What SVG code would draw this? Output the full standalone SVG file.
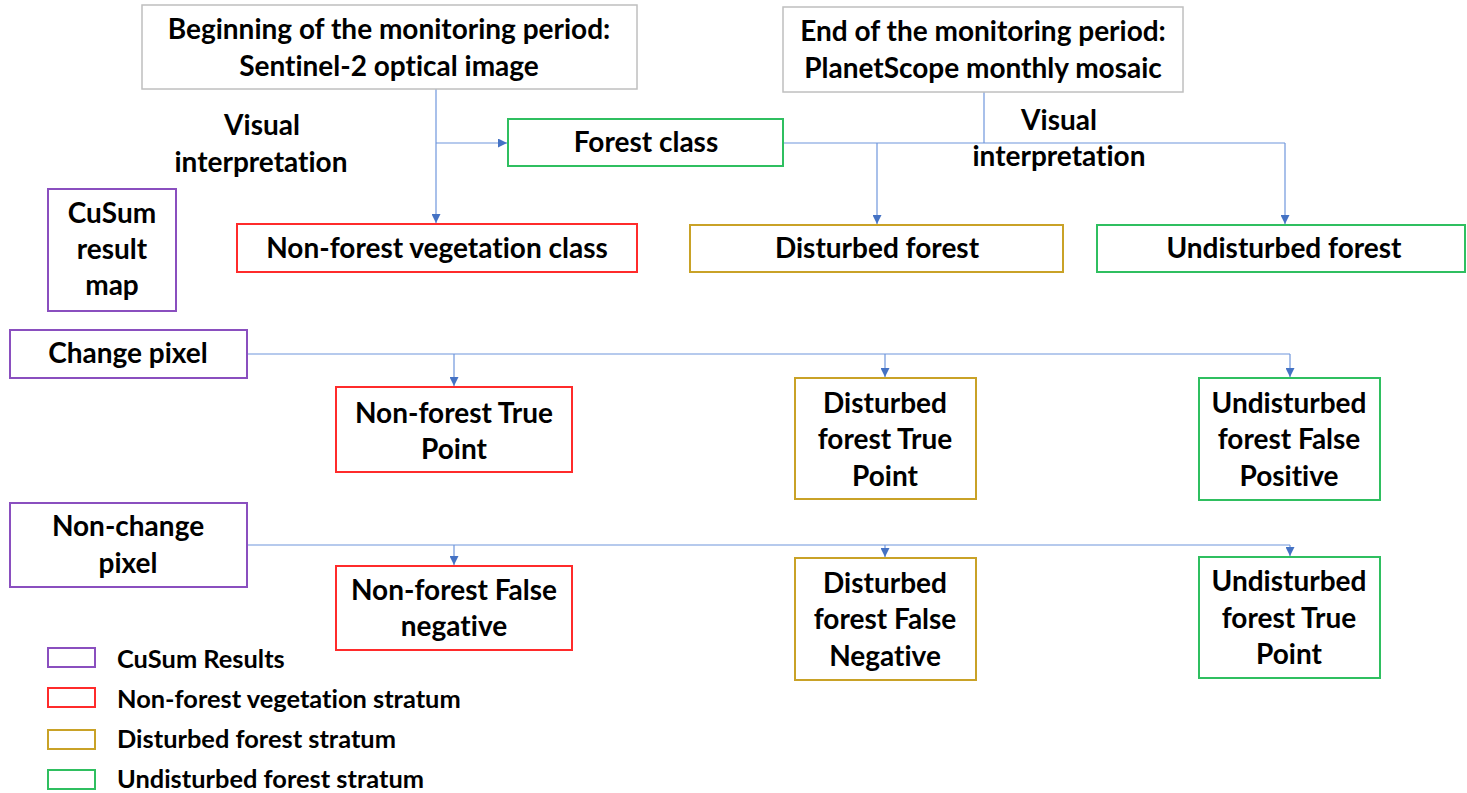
<svg xmlns="http://www.w3.org/2000/svg" width="1467" height="793" viewBox="0 0 1467 793">
<style>
text{font-family:Lato,"Liberation Sans",sans-serif;font-weight:bold;font-size:28px;fill:#000;font-variant-ligatures:none}
.c{text-anchor:middle}
.lg{font-size:25.4px}
rect{fill:#fff}
.gray{stroke:#bfbfbf;stroke-width:1.5}
.red{stroke:#ff2b2b;stroke-width:2}
.green{stroke:#2fbf60;stroke-width:2}
.gold{stroke:#c9a227;stroke-width:2}
.purple{stroke:#8a4fbf;stroke-width:2}
.ln{fill:none;stroke:#6f96dc;stroke-width:1.2}
</style>
<defs>
<marker id="ah" viewBox="0 0 10 10" refX="10" refY="5" markerWidth="9" markerHeight="9" markerUnits="userSpaceOnUse" orient="auto">
<path d="M0,0 L10,5 L0,10 z" fill="#4472c4"/>
</marker>
</defs>
<g id="connectors">
<path class="ln" d="M436,89 V223" marker-end="url(#ah)"/>
<path class="ln" d="M436,143 H507" marker-end="url(#ah)"/>
<path class="ln" d="M984,92 V143"/>
<path class="ln" d="M783,143 H1285"/>
<path class="ln" d="M877,143 V224" marker-end="url(#ah)"/>
<path class="ln" d="M1285,143 V224" marker-end="url(#ah)"/>
<path class="ln" d="M248,354 H1290"/>
<path class="ln" d="M454,354 V386" marker-end="url(#ah)"/>
<path class="ln" d="M885,354 V377" marker-end="url(#ah)"/>
<path class="ln" d="M1290,354 V377" marker-end="url(#ah)"/>
<path class="ln" d="M248,545 H1290"/>
<path class="ln" d="M454,545 V565" marker-end="url(#ah)"/>
<path class="ln" d="M885,545 V557" marker-end="url(#ah)"/>
<path class="ln" d="M1290,545 V556" marker-end="url(#ah)"/>
</g>
<g id="label-visual-left">
<text class="c" x="262" y="135">Visual</text>
<text class="c" x="261" y="172">interpretation</text>
</g>
<g id="label-visual-right">
<text class="c" x="1059" y="130">Visual</text>
<text class="c" x="1059" y="166">interpretation</text>
</g>
<g id="beginning">
<rect class="gray" x="142" y="5" width="495" height="84"/>
<text class="c" x="389" y="39">Beginning of the monitoring period:</text>
<text class="c" x="389" y="76">Sentinel-2 optical image</text>
</g>
<g id="end">
<rect class="gray" x="783" y="7" width="400" height="85"/>
<text class="c" x="983" y="41">End of the monitoring period:</text>
<text class="c" x="983" y="78">PlanetScope monthly mosaic</text>
</g>
<g id="forest-class">
<rect class="green" x="508" y="119" width="275" height="47"/>
<text class="c" x="646" y="152">Forest class</text>
</g>
<g id="non-forest-vegetation-class">
<rect class="red" x="237" y="224" width="400" height="48"/>
<text class="c" x="437" y="258">Non-forest vegetation class</text>
</g>
<g id="disturbed-forest">
<rect class="gold" x="690" y="225" width="373" height="47"/>
<text class="c" x="877" y="258">Disturbed forest</text>
</g>
<g id="undisturbed-forest">
<rect class="green" x="1097" y="225" width="368" height="47"/>
<text class="c" x="1284" y="258">Undisturbed forest</text>
</g>
<g id="cusum-result-map">
<rect class="purple" x="48" y="189" width="128" height="122"/>
<text class="c" x="112" y="223">CuSum</text>
<text class="c" x="112" y="259">result</text>
<text class="c" x="112" y="295">map</text>
</g>
<g id="change-pixel">
<rect class="purple" x="10" y="330" width="237" height="48"/>
<text class="c" x="128" y="363">Change pixel</text>
</g>
<g id="non-forest-true-point">
<rect class="red" x="336" y="387" width="236" height="85"/>
<text class="c" x="454" y="423">Non-forest True</text>
<text class="c" x="454" y="459">Point</text>
</g>
<g id="disturbed-forest-true-point">
<rect class="gold" x="795" y="378" width="181" height="121"/>
<text class="c" x="885" y="413">Disturbed</text>
<text class="c" x="885" y="449">forest True</text>
<text class="c" x="885" y="486">Point</text>
</g>
<g id="undisturbed-forest-false-positive">
<rect class="green" x="1199" y="378" width="181" height="122"/>
<text class="c" x="1289" y="413">Undisturbed</text>
<text class="c" x="1289" y="449">forest False</text>
<text class="c" x="1289" y="486">Positive</text>
</g>
<g id="non-change-pixel">
<rect class="purple" x="10" y="503" width="237" height="84"/>
<text class="c" x="128" y="536">Non-change</text>
<text class="c" x="128" y="573">pixel</text>
</g>
<g id="non-forest-false-negative">
<rect class="red" x="336" y="566" width="236" height="84"/>
<text class="c" x="454" y="600">Non-forest False</text>
<text class="c" x="454" y="636">negative</text>
</g>
<g id="disturbed-forest-false-negative">
<rect class="gold" x="795" y="558" width="181" height="122"/>
<text class="c" x="885" y="593">Disturbed</text>
<text class="c" x="885" y="629">forest False</text>
<text class="c" x="885" y="666">Negative</text>
</g>
<g id="undisturbed-forest-true-point">
<rect class="green" x="1199" y="557" width="181" height="121"/>
<text class="c" x="1289" y="591">Undisturbed</text>
<text class="c" x="1289" y="628">forest True</text>
<text class="c" x="1289" y="664">Point</text>
</g>
<g id="legend">
<rect class="purple" x="48" y="648" width="47" height="19"/>
<text class="lg" x="117" y="668">CuSum Results</text>
<rect class="red" x="48" y="688" width="47" height="19"/>
<text class="lg" x="117" y="708">Non-forest vegetation stratum</text>
<rect class="gold" x="48" y="730" width="47" height="19"/>
<text class="lg" x="117" y="748">Disturbed forest stratum</text>
<rect class="green" x="48" y="770" width="47" height="19"/>
<text class="lg" x="117" y="788">Undisturbed forest stratum</text>
</g>
</svg>
